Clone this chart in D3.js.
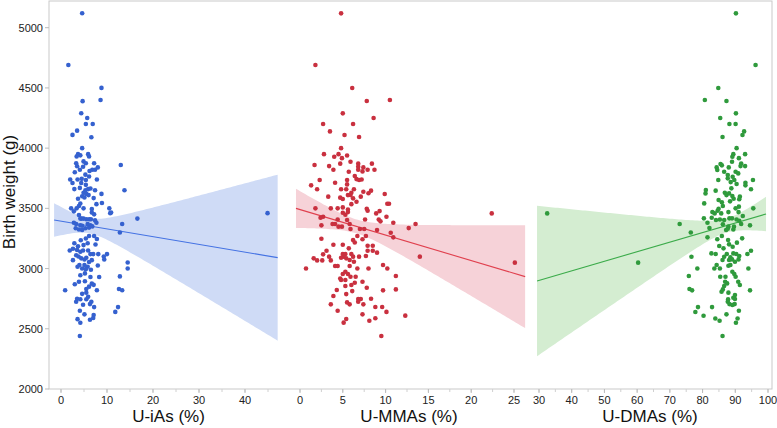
<!DOCTYPE html>
<html><head><meta charset="utf-8">
<script src="https://cdn.jsdelivr.net/npm/d3@7"></script>
<style>body{margin:0;background:#fff}svg{display:block;font-family:"Liberation Sans",Arial,Helvetica,sans-serif}</style>
</head><body><svg id="c" width="777" height="428"></svg>
<script>
// ---- data ----
const yTicks = [2000, 2500, 3000, 3500, 4000, 4500, 5000];
const yTitle = "Birth weight (g)";
const panelTitles = ["U-iAs (%)", "U-MMAs (%)", "U-DMAs (%)"];
const iAsTicks = [0, 10, 20, 30, 40];
const mmaTicks = [0, 5, 10, 15, 20, 25];
const dmaTicks = [30, 40, 50, 60, 70, 80, 90, 100];

const iAsPoints = [[4.6,5120],[1.6,4690],[8.8,4500],[8.6,4400],[4.7,4390],[4.4,4290],[5.7,4250],[6.9,4200],[5.4,4200],[3.5,4145],[2.5,4110],[6.6,4090],
[4.6,4000],[3.7,3950],[4.2,3940],[5.9,3950],[6.1,3930],[3.4,3930],
[4.9,3890],[5.4,3875],[3.3,3875],[3.5,3850],[7.2,3875],[8.0,3840],[13.0,3860],[4.8,3845],[6.8,3820],[6.2,3810],[7.4,3820],
[3.0,3800],[4.1,3820],[5.3,3780],[6.1,3765],[2.0,3740],[3.6,3740],[4.5,3745],[5.4,3735],[7.8,3740],[2.5,3710],[5.4,3695],[4.4,3710],
[2.9,3660],[4.1,3670],[5.9,3660],[5.3,3650],[6.4,3665],[7.4,3650],[13.8,3650],[8.8,3620],[4.9,3630],[5.5,3620],[6.0,3610],[4.6,3600],[5.1,3590],[3.7,3580],[7.1,3585],
[8.9,3545],[7.7,3535],[4.2,3540],[3.9,3520],[2.2,3500],[3.4,3500],[2.8,3475],[4.9,3500],[6.7,3495],[10.5,3500],[10.9,3465],[10.7,3460],[6.7,3465],
[3.9,3445],[4.2,3415],[7.2,3450],[7.4,3400],[4.5,3415],[4.9,3415],[5.5,3410],[6.1,3410],[6.5,3410],[16.6,3415],[2.8,3380],[3.3,3370],[4.2,3360],[4.6,3355],[5.8,3370],[6.4,3360],[7.7,3380],[13.3,3370],[3.2,3335],[3.9,3325],[4.6,3320],[5.3,3335],[6.1,3340],[6.8,3350],
[12.8,3300],[2.9,3210],[4.3,3235],[5.4,3250],[6.1,3270],[7.2,3270],[7.8,3245],[7.5,3200],[3.7,3185],[4.9,3195],[5.8,3210],[1.9,3150],[2.6,3165],
[3.5,3155],[4.2,3140],[4.8,3150],[5.9,3150],[7.0,3120],[6.4,3120],[8.1,3120],[10.0,3120],[9.3,3100],[9.4,3075],[3.3,3110],[3.8,3100],[4.4,3085],[5.1,3075],[5.5,3090],[2.6,3070],[6.1,3055],[6.7,3070],[4.0,3030],[5.1,3030],[8.0,3025],[14.5,3050],[14.5,3000],
[3.6,3015],[4.6,3000],[5.8,3015],[5.4,2995],[6.5,2990],[5.2,2960],[4.2,2945],[6.4,2930],[8.3,2930],[12.8,2935],[3.9,2890],[3.0,2870],[5.2,2895],[6.7,2875],[7.1,2865],[6.1,2850],
[0.9,2820],[5.5,2830],[7.8,2820],[12.6,2830],[13.3,2820],[5.5,2800],[4.6,2790],[5.9,2765],[3.5,2750],[4.2,2745],[5.5,2745],[3.3,2725],
[6.6,2725],[6.3,2705],[4.8,2700],[7.2,2680],[12.4,2680],[4.1,2650],[11.8,2640],[5.1,2620],[7.1,2615],[7.0,2590],[3.6,2580],[6.3,2575],[4.2,2550],[4.1,2440],[44.9,3460]];

const mmaPoints = [[4.8,5119],[1.8,4690],[6.1,4499],[7.8,4391],[10.5,4400],[5.0,4289],[8.6,4250],[2.7,4200],[6.2,4200],[3.5,4139],[5.2,4109],[6.9,4092],
[4.8,4000],[2.8,3950],[4.5,3950],[4.0,3928],[5.5,3939],[4.9,3917],[5.9,3887],[4.7,3871],[6.8,3871],[8.4,3871],[7.4,3840],[1.7,3860],[3.4,3851],[3.9,3821],
[5.7,3804],[6.8,3846],[6.8,3821],[7.9,3821],[8.7,3821],[7.3,3807],[6.4,3768],[6.6,3743],[6.9,3735],[7.2,3740],[5.5,3735],[2.3,3735],[1.3,3691],[2.0,3658],
[4.1,3713],[5.5,3699],[4.8,3658],[5.4,3658],[6.3,3658],[7.4,3638],[8.0,3625],[8.3,3647],[6.0,3630],[5.9,3610],[5.6,3610],[3.3,3597],[4.7,3589],[5.0,3578],
[6.2,3583],[7.1,3597],[9.9,3619],[6.6,3555],[6.0,3535],[10.2,3538],[10.4,3538],[1.8,3500],[3.6,3500],[4.4,3500],[5.0,3508],[5.6,3491],[7.8,3497],[7.9,3480],
[8.9,3458],[9.3,3477],[5.0,3464],[5.3,3447],[5.6,3469],[2.7,3430],[2.4,3422],[10.1,3430],[4.4,3408],[7.6,3408],[5.5,3403],[9.2,3408],[9.4,3392],[10.9,3381],
[13.5,3370],[3.8,3370],[4.1,3370],[5.8,3370],[2.5,3359],[4.5,3348],[4.9,3348],[5.9,3328],[7.0,3328],[7.5,3328],[9.0,3320],[10.6,3298],[12.7,3336],[22.4,3458],
[6.7,3271],[7.7,3271],[10.9,3259],[2.5,3248],[6.2,3237],[7.3,3243],[6.4,3217],[3.9,3198],[5.0,3198],[7.9,3190],[8.5,3190],[7.9,3148],[8.5,3148],[5.7,3168],
[3.1,3148],[9.0,3132],[14.0,3099],[2.7,3118],[3.4,3099],[5.0,3121],[5.3,3121],[6.0,3121],[5.1,3099],[4.8,3090],[6.2,3099],[6.9,3099],[7.7,3104],[1.6,3085],
[2.0,3068],[2.6,3068],[3.6,3068],[5.4,3085],[5.8,3071],[6.3,3057],[0.7,3001],[4.1,3021],[4.4,3021],[5.8,3021],[6.7,3001],[8.0,3001],[9.7,3029],[10.2,3001],
[25.1,3049],[5.3,2974],[5.0,2955],[5.6,2955],[6.5,2932],[11.2,2938],[4.7,2918],[5.9,2932],[4.8,2905],[5.3,2905],[7.3,2891],[6.4,2882],[6.0,2863],[5.3,2855],
[7.8,2841],[4.3,2822],[11.2,2827],[9.7,2819],[6.1,2813],[5.4,2788],[3.9,2772],[6.8,2747],[7.1,2747],[8.3,2750],[6.8,2725],[5.5,2719],[5.8,2703],[3.6,2703],
[7.4,2703],[8.8,2681],[9.6,2681],[10.1,2640],[4.4,2650],[7.3,2620],[12.3,2609],[8.8,2587],[5.4,2581],[8.1,2567],[5.1,2551],[9.5,2440]];

const dmaPoints = [[90.2,5119],[96.2,4690],[84.8,4499],[80.7,4400],[87.3,4391],[85.4,4250],[88.2,4200],[90.1,4200],[90.2,4289],[92.7,4139],[92.2,4109],[86.1,4092],
[90.4,4000],[89.4,3950],[89.1,3928],[93.0,3950],[91.1,3917],[91.8,3873],[89.0,3887],[85.5,3868],[85.9,3857],[88.0,3840],[84.3,3840],[91.6,3851],[93.0,3851],
[84.5,3818],[86.6,3804],[90.1,3804],[90.9,3790],[87.7,3777],[87.7,3749],[89.2,3763],[84.8,3735],[88.6,3718],[89.7,3735],[90.4,3702],[93.1,3713],[93.1,3691],
[95.4,3735],[88.8,3666],[94.8,3658],[81.0,3652],[84.0,3647],[86.8,3630],[80.9,3624],[87.3,3610],[88.1,3624],[89.1,3602],[91.4,3597],[89.5,3580],[91.2,3575],
[85.9,3550],[84.9,3569],[88.4,3558],[80.5,3541],[91.1,3514],[86.2,3519],[90.1,3500],[95.5,3500],[84.9,3497],[84.6,3480],[83.0,3469],[83.7,3458],[85.7,3458],
[87.9,3469],[91.0,3469],[92.3,3436],[80.4,3417],[82.8,3422],[84.1,3403],[85.3,3408],[86.6,3403],[88.2,3417],[89.0,3417],[90.4,3408],[91.2,3397],[81.5,3381],
[94.5,3359],[91.8,3370],[73.0,3370],[89.6,3348],[86.2,3367],[87.9,3348],[82.1,3336],[87.2,3320],[87.7,3331],[89.4,3325],[76.4,3300],[85.9,3271],[81.5,3259],
[92.1,3251],[84.5,3243],[87.8,3237],[88.1,3201],[90.5,3215],[89.2,3181],[85.1,3187],[86.4,3168],[94.8,3148],[82.7,3126],[84.0,3121],[87.4,3121],[89.4,3126],
[90.3,3121],[93.7,3121],[91.2,3104],[76.6,3098],[86.6,3098],[88.5,3093],[89.0,3076],[91.0,3076],[86.1,3071],[88.1,3071],[60.3,3049],[89.9,3057],[84.3,3029],
[87.9,3024],[88.5,3029],[78.4,3001],[83.6,3001],[85.3,3001],[94.0,3001],[89.1,2974],[89.7,2955],[75.8,2938],[85.4,2932],[87.0,2932],[90.1,2932],[90.9,2891],
[86.9,2891],[91.4,2863],[86.6,2855],[87.5,2877],[76.0,2830],[76.8,2819],[86.2,2827],[85.8,2808],[94.5,2819],[87.9,2800],[89.9,2780],[89.4,2758],[87.8,2744],
[89.9,2747],[87.7,2725],[89.8,2705],[88.2,2705],[89.1,2697],[82.9,2680],[78.6,2680],[77.8,2639],[91.1,2650],[87.3,2620],[80.3,2608],[83.9,2586],[90.7,2586],
[85.2,2567],[90.2,2550],[86.1,2440],[32.5,3458]];

// fitted line (intercept, slope) and confidence band parameters
const iAsFit = [3394, -6.44];   const iAsBand = [6.0, 61.7, 16.7];   const iAsExtent = [-1.5, 47.1];
const mmaFit = [3490, -21.18];  const mmaBand = [6.6, 57.8, 21.5];  const mmaExtent = [-0.47, 26.3];
const dmaFit = [2663, 7.95];    const dmaBand = [87.3, 58.4, 10.74]; const dmaExtent = [29.4, 99.4];

// ---- drawing ----
const svg = d3.select("#c");
const frame = {left: 49, top: 1, right: 772, bottom: 389};
const y = d3.scaleLinear().domain([2000, 5000]).range([389, 27.7]);

const panels = [
  {pts: iAsPoints, ticks: iAsTicks, minor: 5, dom: [0, 40], rng: [61, 245], title: panelTitles[0], tx: 168.5,
   fit: iAsFit, band: iAsBand, ext: iAsExtent, dot: "#3561cf", line: "#4472e3", fill: "#cfdbf6", lim:[49,288]},
  {pts: mmaPoints, ticks: mmaTicks, minor: 2.5, dom: [0, 25], rng: [300, 514], title: panelTitles[1], tx: 409,
   fit: mmaFit, band: mmaBand, ext: mmaExtent, dot: "#c9303f", line: "#e0404e", fill: "#f6d2d8", lim:[288,528]},
  {pts: dmaPoints, ticks: dmaTicks, minor: 5, dom: [30, 100], rng: [539, 768], title: panelTitles[2], tx: 650,
   fit: dmaFit, band: dmaBand, ext: dmaExtent, dot: "#2f9a3c", line: "#3bab4a", fill: "#d4edd1", lim:[528,772]}
];

// frame
svg.append("rect").attr("x", frame.left).attr("y", frame.top)
  .attr("width", frame.right - frame.left).attr("height", frame.bottom - frame.top)
  .attr("fill", "none").attr("stroke", "#c9c9c9").attr("stroke-width", 1);

// y axis
const gy = svg.append("g");
yTicks.forEach(t => {
  gy.append("line").attr("x1", 45).attr("x2", 49).attr("y1", y(t)).attr("y2", y(t)).attr("stroke", "#bbb");
  gy.append("text").attr("x", 43).attr("y", y(t)).attr("dy", "0.36em").attr("text-anchor", "end")
    .attr("font-size", 11).attr("fill", "#222").text(t);
});
svg.append("text").attr("transform", "translate(15,192) rotate(-90)").attr("text-anchor", "middle")
  .attr("font-size", 17).attr("fill", "#111").text(yTitle);

panels.forEach(p => {
  const x = d3.scaleLinear().domain(p.dom).range(p.rng);
  const g = svg.append("g");
  // band
  const xs = d3.range(0, 101).map(i => p.ext[0] + (p.ext[1] - p.ext[0]) * i / 100);
  const fitv = v => p.fit[0] + p.fit[1] * v;
  const hw = v => Math.sqrt(p.band[1] * p.band[1] + p.band[2] * p.band[2] * (v - p.band[0]) * (v - p.band[0]));
  g.append("path").datum(xs)
    .attr("d", d3.area().x(v => x(v)).y0(v => y(fitv(v) - hw(v))).y1(v => y(fitv(v) + hw(v))))
    .attr("fill", p.fill).attr("stroke", "none");
  g.append("line").attr("x1", x(p.ext[0])).attr("x2", x(p.ext[1]))
    .attr("y1", y(fitv(p.ext[0]))).attr("y2", y(fitv(p.ext[1])))
    .attr("stroke", p.line).attr("stroke-width", 1.1);
  // points
  g.selectAll("circle").data(p.pts).join("circle")
    .attr("cx", d => x(d[0])).attr("cy", d => y(d[1])).attr("r", 2.3).attr("fill", p.dot);
  // x axis ticks
  const minorT = d3.range(p.dom[0] - p.minor * 2, p.dom[1] + p.minor * 2 + 0.001, p.minor)
    .filter(v => x(v) >= p.lim[0] + 2 && x(v) <= p.lim[1] - 2);
  minorT.forEach(t => {
    g.append("line").attr("x1", x(t)).attr("x2", x(t)).attr("y1", 389).attr("y2", 392).attr("stroke", "#d0d0d0");
  });
  p.ticks.forEach(t => {
    g.append("line").attr("x1", x(t)).attr("x2", x(t)).attr("y1", 389).attr("y2", 393).attr("stroke", "#bbb");
    g.append("text").attr("x", x(t)).attr("y", 404).attr("text-anchor", "middle")
      .attr("font-size", 11).attr("fill", "#222").text(t);
  });
  svg.append("text").attr("x", p.tx).attr("y", 422).attr("text-anchor", "middle")
    .attr("font-size", 17).attr("fill", "#111").text(p.title);
});
</script></body></html>
